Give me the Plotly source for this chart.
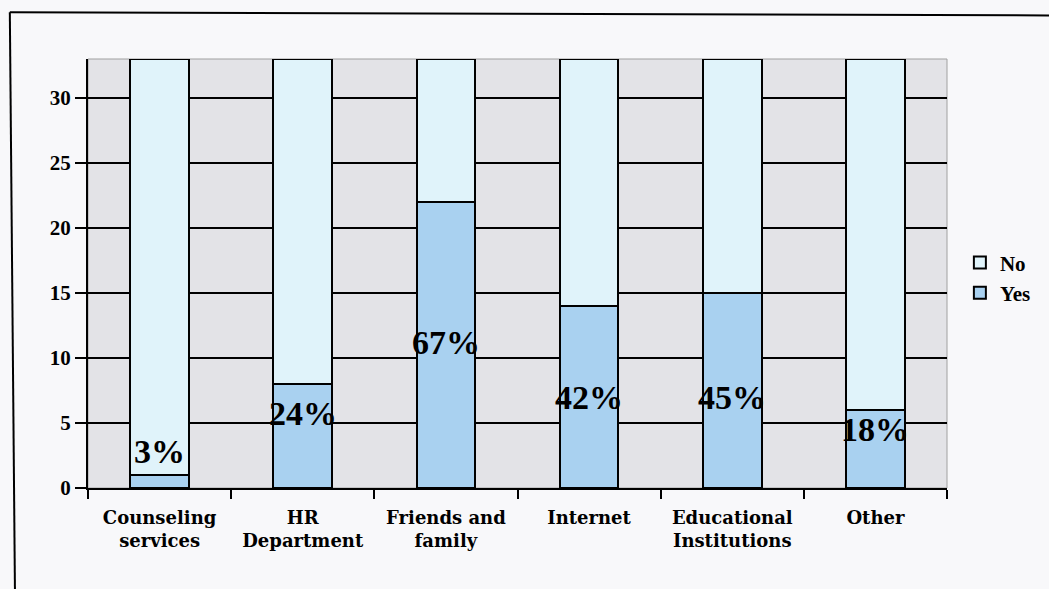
import plotly.graph_objects as go

# Survey: where respondents looked for help (33 respondents per source)
categories = ["Counseling<br>services", "HR<br>Department", "Friends and<br>family",
              "Internet", "Educational<br>Institutions", "Other"]
yes_counts = [1, 8, 22, 14, 15, 6]
no_counts = [32, 25, 11, 19, 18, 27]
pct_labels = ["3%", "24%", "67%", "42%", "45%", "18%"]
y_ticks = [0, 5, 10, 15, 20, 25, 30]

# vertical placement of the percentage labels (data units)
label_y = [2.8, 5.7, 11.2, 7.0, 7.0, 4.5]

YES_COLOR = "#a9d1f0"
NO_COLOR = "#e0f3fa"
SERIF = "Liberation Serif"

fig = go.Figure()
fig.add_trace(go.Bar(
    x=categories, y=yes_counts, name="Yes",
    marker=dict(color=YES_COLOR, line=dict(color="black", width=2)),
    width=0.41,
))
fig.add_trace(go.Bar(
    x=categories, y=no_counts, name="No",
    marker=dict(color=NO_COLOR, line=dict(color="black", width=2)),
    width=0.41,
))

for cat, txt, yy in zip(categories, pct_labels, label_y):
    fig.add_annotation(
        x=cat, y=yy, text=txt, showarrow=False,
        font=dict(family=SERIF, size=34, color="black", weight="bold"),
        xanchor="center", yanchor="middle",
    )

# outer page frame (top and left edges)
fig.add_shape(type="line", xref="paper", yref="paper",
              x0=-0.091, y0=1.109, x1=1.2, y1=1.101,
              line=dict(color="black", width=2))
fig.add_shape(type="line", xref="paper", yref="paper",
              x0=-0.091, y0=1.109, x1=-0.085, y1=-0.25,
              line=dict(color="black", width=2))

fig.update_layout(
    barmode="stack",
    width=1049, height=589,
    margin=dict(l=88, r=102, t=59, b=101, autoexpand=False),
    paper_bgcolor="#f8f8fa",
    plot_bgcolor="#e3e3e7",
    showlegend=True,
    legend=dict(
        x=1.015, y=0.49, xanchor="left", yanchor="middle",
        traceorder="reversed",
        font=dict(family=SERIF, size=21, color="black", weight="bold"),
        bgcolor="rgba(0,0,0,0)",
        itemwidth=30,
    ),
    xaxis=dict(
        type="category",
        showgrid=False,
        showline=True, linecolor="black", linewidth=2,
        ticks="outside", tickson="boundaries", ticklen=9, tickwidth=2, tickcolor="black",
        tickfont=dict(family="DejaVu Serif", size=18, color="black", weight="bold"),
        ticklabelstandoff=12,
        mirror=False,
    ),
    yaxis=dict(
        range=[0, 33],
        tickvals=y_ticks,
        showgrid=True, gridcolor="black", gridwidth=2,
        showline=True, linecolor="black", linewidth=2,
        ticks="outside", ticklen=11, tickwidth=2, tickcolor="black",
        tickfont=dict(family=SERIF, size=21, color="black", weight="bold"),
        zeroline=False,
    ),
    bargap=0.59,
)

# light grey border on the remaining sides of the plot area
fig.add_shape(type="rect", xref="paper", yref="paper", x0=0, y0=0, x1=1, y1=1,
              line=dict(color="#a0a0a0", width=1), layer="below")

fig.write_html("out.html")
